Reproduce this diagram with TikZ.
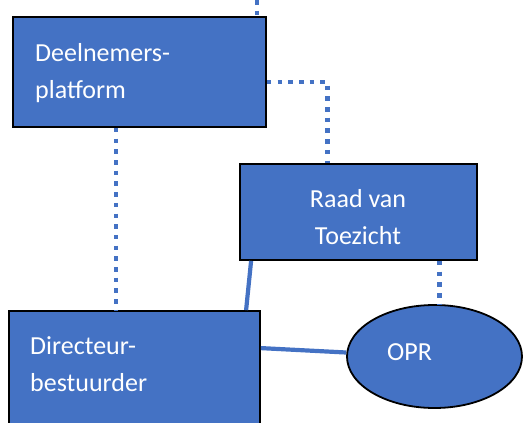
\documentclass[tikz,border=0pt]{standalone}
\usepackage{fontspec}
\setmainfont{Carlito}
\usetikzlibrary{shapes.geometric,calc}
\definecolor{boxblue}{HTML}{4472C4}
\begin{document}
\begin{tikzpicture}[x=1pt,y=-1pt,
  box/.style={draw=black, line width=1.8pt, fill=boxblue, rectangle, inner sep=0pt},
  oval/.style={draw=black, line width=1.8pt, fill=boxblue, ellipse, inner sep=0pt},
  lbl/.style={text=white, inner sep=0pt, font=\fontsize{26}{37}\selectfont},
  dotline/.style={draw=boxblue, line width=4.5pt, dash pattern=on 4.5pt off 6.2pt},
  solidline/.style={draw=boxblue, line width=4.2pt}]
\useasboundingbox (0,0) rectangle (531,423);
\node[box, minimum width=253pt, minimum height=110pt] (dp) at (139.5,72) {};
\node[box, minimum width=237pt, minimum height=96pt] (rt) at (358.5,212) {};
\node[box, minimum width=251pt, minimum height=140pt] (dr) at (134.5,381) {};
\node[oval, minimum width=175pt, minimum height=103pt] (opr) at (434.5,356.5) {};
\node[lbl, anchor=base west] (dpt) at (35,61) {\begin{tabular}[t]{@{}l@{}}Deelnemers-\\platform\end{tabular}};
\node[lbl, anchor=base] (rtt) at (358,207) {\begin{tabular}[t]{@{}c@{}}Raad van\\Toezicht\end{tabular}};
\node[lbl, anchor=base west] (drt) at (30,354) {\begin{tabular}[t]{@{}l@{}}Directeur-\\bestuurder\end{tabular}};
\node[lbl, anchor=base west] (oprt) at (387,360) {OPR};
\coordinate (top) at (257,0);
\draw[dotline] (top) -- (top |- dp.north);
\draw[dotline] ([yshift=-10pt]dp.east) -| ([xshift=-31pt]rt.north);
\draw[dotline] ([xshift=-23.5pt]dp.south) -- ([xshift=-23.5pt]dp.south |- dr.north);
\draw[solidline] ([xshift=12pt]rt.south west) -- ([xshift=238pt]dr.north west);
\draw[dotline] ([xshift=81pt]rt.south) -- ([xshift=81pt]rt.south |- opr.north);
\draw[solidline] ([yshift=-38pt]dr.north east) -- ([yshift=4pt]opr.west);
\end{tikzpicture}
\end{document}
